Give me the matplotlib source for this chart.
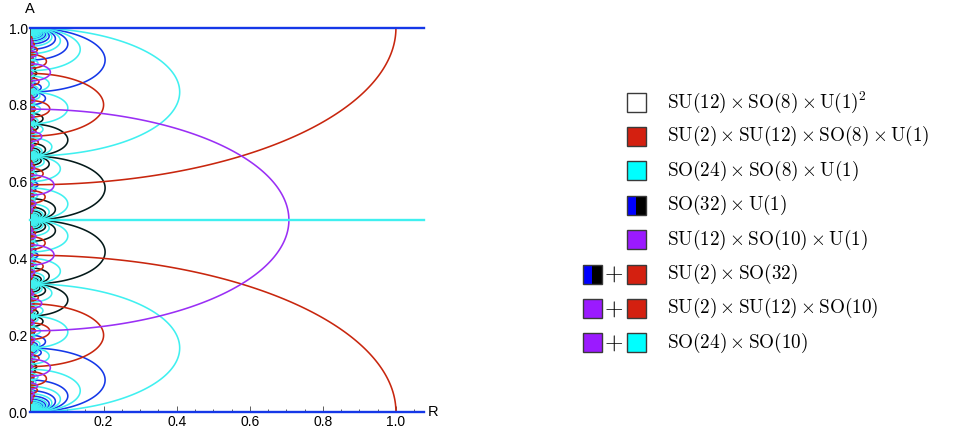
import numpy as np
import matplotlib
matplotlib.use('Agg')
import matplotlib.pyplot as plt
from matplotlib.patches import Rectangle
from matplotlib.collections import LineCollection
from collections import deque
from fractions import Fraction

plt.rcParams['mathtext.fontset'] = 'cm'

# walls of the basic cell (A = position on the A axis,
# R = how far the wall reaches along R; lines have no reach)
wall_type = ['line', 'line', 'circle', 'circle']
wall_A = [0.0, 0.5, 0.0, 0.5]
wall_R = [0.0, 0.0, 1.0, 0.707]
wall_group = ['so32', 'so24', 'su2', 'so10']
stretch = 2.449          # R reach / A half width of every arc

line_colors = {'so32': '#1538e8', 'so32b': '#041a1a', 'so24': '#40f0f0',
               'su2': '#c8260e', 'so10': '#9a2ff5'}

legend_labels = [r'$\mathrm{SU}(12)\times\mathrm{SO}(8)\times\mathrm{U}(1)^2$',
                 r'$\mathrm{SU}(2)\times\mathrm{SU}(12)\times\mathrm{SO}(8)\times\mathrm{U}(1)$',
                 r'$\mathrm{SO}(24)\times\mathrm{SO}(8)\times\mathrm{U}(1)$',
                 r'$\mathrm{SO}(32)\times\mathrm{U}(1)$',
                 r'$\mathrm{SU}(12)\times\mathrm{SO}(10)\times\mathrm{U}(1)$',
                 r'$\mathrm{SU}(2)\times\mathrm{SO}(32)$',
                 r'$\mathrm{SU}(2)\times\mathrm{SU}(12)\times\mathrm{SO}(10)$',
                 r'$\mathrm{SO}(24)\times\mathrm{SO}(10)$']
legend_first = [None, None, None, None, None, 'so32', 'so10', 'so10']
legend_second = ['none', 'su2', 'so24', 'so32', 'so10', 'su2', 'su2', 'so24']
box_colors = {'none': '#ffffff', 'su2': '#d42010', 'so24': '#00ffff',
              'so10': '#9b1aff', 'so32': ('#0000ff', '#000000')}

# exact centres and squared radii (in A units) so mirror images stay exact
cen = [Fraction(c).limit_denominator(100) for c in wall_A]
rad2 = [Fraction((r / stretch) ** 2).limit_denominator(100) for r in wall_R]


def reflect(x, i):
    c = cen[i]
    if wall_type[i] == 'line':
        return None if x is None else 2 * c - x
    if x is None:
        return c
    if x == c:
        return None
    return c + rad2[i] / (x - c)


def freflect(x, i):
    c = float(cen[i])
    if wall_type[i] == 'line':
        return 2 * c - x
    return c + float(rad2[i]) / (x - c)


def order(p, q):
    if p is None:
        return (q, None)
    if q is None:
        return (p, None)
    return (p, q) if p < q else (q, p)


lo, hi = Fraction(-1), Fraction(2)
min_half = Fraction(1, 2000)

# line walls: rational endpoints, exact search
seen = {}
queue = deque()
for i in range(4):
    if wall_type[i] == 'line':
        ends = (cen[i], None)
        seen[ends] = (wall_group[i], 0)
        queue.append((ends, wall_group[i], 0))

while queue and len(seen) < 40000:
    ends, grp, par = queue.popleft()
    for i in range(4):
        new = order(reflect(ends[0], i), reflect(ends[1], i))
        p = par ^ (1 if i == 3 else 0)
        a, b = new
        if a < lo or a > hi:
            continue
        if b is not None and (b > hi or (b - a) / 2 < min_half):
            continue
        if new in seen:
            continue
        seen[new] = (grp, p)
        queue.append((new, grp, p))

# circle walls: irrational endpoints, float search
float_seen = {}
fqueue = deque()
for i in range(4):
    if wall_type[i] == 'circle':
        h = np.sqrt(float(rad2[i]))
        e = (float(cen[i]) - h, float(cen[i]) + h)
        float_seen[(round(e[0], 7), round(e[1], 7))] = (wall_group[i], 0, e)
        fqueue.append((e, wall_group[i], 0))

while fqueue and len(float_seen) < 40000:
    ends, grp, par = fqueue.popleft()
    for i in range(4):
        a, b = sorted(freflect(e, i) for e in ends)
        if a < -1 or b > 2 or (b - a) / 2 < 5e-4:
            continue
        k = (round(a, 7), round(b, 7))
        if k in float_seen:
            continue
        float_seen[k] = (grp, par, (a, b))
        fqueue.append(((a, b), grp, par))

arcs = []
for (a, b), (grp, p) in seen.items():
    arcs.append((float(a), None if b is None else float(b), grp, p))
for k, (grp, p, (a, b)) in float_seen.items():
    arcs.append((a, b, grp, p))

fig = plt.figure(figsize=(9.62, 4.30), dpi=100)
ax = fig.add_axes([30.5 / 962, 18 / 430, (424 - 30.5) / 962, 384 / 430])
xmax = (424 - 30.5) / 365.5

segs = {c: [] for c in line_colors}
hlines = []
for a, b, grp, p in arcs:
    name = 'so32b' if (grp == 'so32' and p == 1) else grp
    if b is None:
        if -1e-9 <= a <= 1 + 1e-9:
            hlines.append((a, name))
        continue
    h = (b - a) / 2
    if h < 1.2e-3 or b < 0 or a > 1:
        continue
    c = (a + b) / 2
    n = int(min(400, max(30, 3000 * h)))
    t = np.linspace(0, np.pi, n)
    segs[name].append(np.column_stack([stretch * h * np.sin(t), c + h * np.cos(t)]))

for name in ['so32', 'so32b', 'so24', 'su2', 'so10']:
    ax.add_collection(LineCollection(segs[name], colors=line_colors[name], linewidths=1.15))
for a, name in hlines:
    ax.plot([0, xmax], [a, a], color=line_colors[name], lw=1.7, clip_on=False, zorder=3)

ax.set_xlim(0, xmax)
ax.set_ylim(0, 1)
for s in ['top', 'right']:
    ax.spines[s].set_visible(False)
for s in ['left', 'bottom']:
    ax.spines[s].set_color('#444444')
    ax.spines[s].set_linewidth(0.7)
ax.set_xticks([0.2, 0.4, 0.6, 0.8, 1.0])
ax.set_xticks(np.arange(0.05, 1.07, 0.05), minor=True)
ax.set_yticks([0.0, 0.2, 0.4, 0.6, 0.8, 1.0])
ax.set_yticks(np.arange(0.05, 1.0, 0.05), minor=True)
ax.tick_params(which='both', direction='in', color='#444444', width=0.6,
               labelsize=10, pad=2)
ax.tick_params(which='major', length=4)
ax.tick_params(which='minor', length=2.5)
ax.set_xticklabels(['0.2', '0.4', '0.6', '0.8', '1.0'], family='Liberation Sans')
ax.set_yticklabels(['0.0', '0.2', '0.4', '0.6', '0.8', '1.0'], family='Liberation Sans')
fig.text(30 / 962, 1 - 9 / 430, 'A', ha='center', va='center', fontsize=10.5,
         family='Liberation Sans')
fig.text(428 / 962, 1 - 412 / 430, 'R', ha='left', va='center', fontsize=10.5,
         family='Liberation Sans')

# legend drawn in pixel coordinates
lg = fig.add_axes([0, 0, 1, 1])
lg.set_xlim(0, 962)
lg.set_ylim(430, 0)
lg.axis('off')
size = 19
for k, label in enumerate(legend_labels):
    yc = 102 + 34.4 * k
    boxes = [(636.5, legend_second[k])]
    if legend_first[k] is not None:
        boxes.append((592.5, legend_first[k]))
        lg.text(613.5, yc, r'$+$', ha='center', va='center', fontsize=17)
    for xc, key in boxes:
        col = box_colors[key]
        if isinstance(col, tuple):
            lg.add_patch(Rectangle((xc - size / 2, yc - size / 2), size / 2, size,
                                   facecolor=col[0], edgecolor='none'))
            lg.add_patch(Rectangle((xc, yc - size / 2), size / 2, size,
                                   facecolor=col[1], edgecolor='none'))
            col = 'none'
        lg.add_patch(Rectangle((xc - size / 2, yc - size / 2), size, size,
                               facecolor=col, edgecolor='#3a3a3a', lw=1.0))
    lg.text(667, yc, label, ha='left', va='center', fontsize=13.8)

fig.savefig('out.png', dpi=100)
